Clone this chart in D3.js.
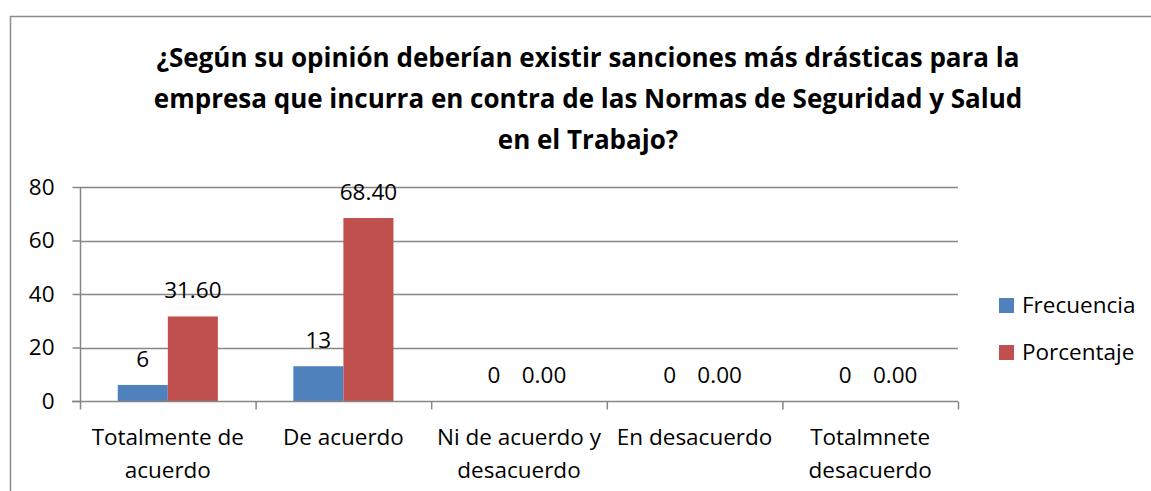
<!DOCTYPE html>
<html>
<head>
<meta charset="utf-8">
<script src="https://cdn.jsdelivr.net/npm/d3@7"></script>
<style>
  body { margin: 0; background: #fff; }
  svg { display: block; font-family: "Open Sans", sans-serif; }
</style>
</head>
<body>
<div id="chart"></div>
<script>
const titleLines = [
    '¿Según su opinión deberían existir sanciones más drásticas para la',
    'empresa que incurra en contra de las Normas de Seguridad y Salud',
    'en el Trabajo?'
];
const categories = [
    ['Totalmente de', 'acuerdo'],
    ['De acuerdo'],
    ['Ni de acuerdo y', 'desacuerdo'],
    ['En desacuerdo'],
    ['Totalmnete', 'desacuerdo']
];
const seriesNames = ['Frecuencia', 'Porcentaje'];
const frecuencia = [6, 13, 0, 0, 0];
const porcentaje = [31.6, 68.4, 0, 0, 0];
const yTicks = [0, 20, 40, 60, 80];
const colors = ['#4F81BD', '#C0504D'];

const width = 1151;
const height = 491;
const plot = { left: 80, right: 958, top: 187, bottom: 401 };
const fontSize = 22.5;

const svg = d3.select('#chart')
    .append('svg')
    .attr('width', width)
    .attr('height', height);

// chart frame
svg.append('rect')
    .attr('x', 10.5).attr('y', 16.5)
    .attr('width', 1150).attr('height', 500)
    .attr('fill', 'none')
    .attr('stroke', '#8c8c8c')
    .attr('stroke-width', 1.5);

svg.append('text')
    .attr('text-anchor', 'middle')
    .attr('font-weight', 'bold')
    .attr('font-size', 26)
    .attr('fill', '#000')
    .selectAll('tspan')
    .data(titleLines)
    .enter()
    .append('tspan')
    .attr('x', 588)
    .attr('y', (d, i) => 67 + i * 41)
    .text(d => d);

const catIdx = categories.map((d, i) => i);

const x0 = d3.scaleBand()
    .domain(catIdx)
    .range([plot.left, plot.right])
    .padding(0);

const x1 = d3.scaleBand()
    .domain([0, 1])
    .range([x0.bandwidth() * 0.215, x0.bandwidth() * 0.785]);

const yScale = d3.scaleLinear()
    .domain([0, 80])
    .range([plot.bottom, plot.top]);

// gridlines
svg.append('g')
    .selectAll('line')
    .data(yTicks.slice(1))
    .enter()
    .append('line')
    .attr('x1', plot.left)
    .attr('x2', plot.right)
    .attr('y1', d => Math.round(yScale(d)) + 0.5)
    .attr('y2', d => Math.round(yScale(d)) + 0.5)
    .attr('stroke', '#868686')
    .attr('stroke-width', 1.5);

// bars
const series = [frecuencia, porcentaje];
series.forEach((vals, s) => {
    svg.append('g')
        .selectAll('rect')
        .data(vals)
        .enter()
        .append('rect')
        .attr('x', (d, i) => x0(i) + x1(s))
        .attr('y', d => yScale(d))
        .attr('width', x1.bandwidth())
        .attr('height', d => plot.bottom - yScale(d))
        .attr('fill', colors[s]);

    svg.append('g')
        .selectAll('text')
        .data(vals)
        .enter()
        .append('text')
        .attr('x', (d, i) => x0(i) + x1(s) + x1.bandwidth() / 2)
        .attr('y', d => yScale(d) - 18)
        .attr('text-anchor', 'middle')
        .attr('font-size', fontSize)
        .attr('fill', '#000')
        .text(d => s === 0 ? d3.format('d')(d) : d3.format('.2f')(d));
});

// y axis
const yAxis = d3.axisLeft(yScale)
    .tickValues(yTicks)
    .tickSize(8)
    .tickPadding(18);

const yg = svg.append('g')
    .attr('transform', `translate(${plot.left + 0.5},0)`)
    .call(yAxis);
yg.selectAll('path, line').attr('stroke', '#868686').attr('stroke-width', 1.5);
yg.select('.domain').attr('d', `M0,${plot.top}V${plot.bottom}`);
yg.selectAll('text').attr('font-size', fontSize).attr('font-family', 'Open Sans').attr('fill', '#000');

// x axis
const xg = svg.append('g')
    .attr('transform', `translate(0,${plot.bottom + 0.5})`);
xg.append('line')
    .attr('x1', plot.left - 8).attr('x2', plot.right)
    .attr('stroke', '#868686').attr('stroke-width', 1.5);
xg.selectAll('.tick')
    .data(catIdx.concat([categories.length]))
    .enter()
    .append('line')
    .attr('x1', d => (d < categories.length ? x0(d) : plot.right) + 0.5)
    .attr('x2', d => (d < categories.length ? x0(d) : plot.right) + 0.5)
    .attr('y1', 0).attr('y2', 8)
    .attr('stroke', '#868686').attr('stroke-width', 1.5);

xg.selectAll('.cat')
    .data(categories)
    .enter()
    .append('text')
    .attr('text-anchor', 'middle')
    .attr('font-size', fontSize)
    .attr('fill', '#000')
    .each(function(d, i) {
        d3.select(this).selectAll('tspan')
            .data(d)
            .enter()
            .append('tspan')
            .attr('x', x0(i) + x0.bandwidth() / 2)
            .attr('y', (t, j) => 43 + j * 33)
            .text(t => t);
    });

// legend
const legend = svg.append('g')
    .attr('transform', 'translate(999,298)');
seriesNames.forEach((name, i) => {
    const row = legend.append('g').attr('transform', `translate(0,${i * 47})`);
    row.append('rect')
        .attr('width', 15).attr('height', 15)
        .attr('fill', colors[i]);
    row.append('text')
        .attr('x', 23).attr('y', 15)
        .attr('font-size', fontSize)
        .attr('fill', '#000')
        .text(name);
});
</script>
</body>
</html>
